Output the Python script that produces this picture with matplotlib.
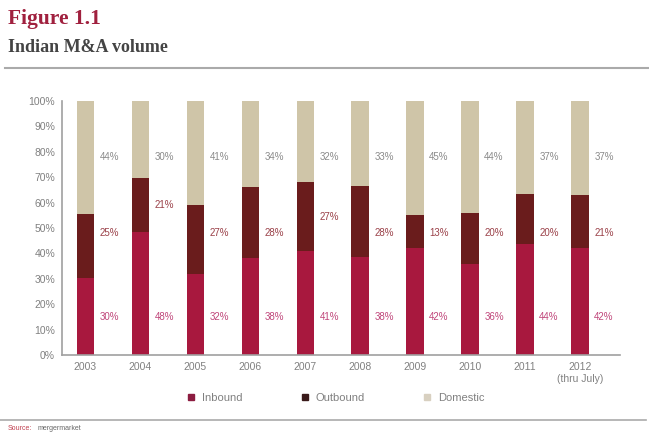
import matplotlib
matplotlib.use('Agg')
import matplotlib.pyplot as plt
import numpy as np
from matplotlib.lines import Line2D

years = ['2003', '2004', '2005', '2006', '2007', '2008', '2009', '2010', '2011', '2012\n(thru July)']
inbound = [30, 48, 32, 38, 41, 38, 42, 36, 44, 42]
outbound = [25, 21, 27, 28, 27, 28, 13, 20, 20, 21]
domestic = [44, 30, 41, 34, 32, 33, 45, 44, 37, 37]

c_in = '#a8183e'
c_out = '#6a1c1c'
c_dom = '#cfc5a8'
narrow = ['Liberation Sans Narrow', 'DejaVu Sans Condensed', 'Liberation Sans']

fig = plt.figure(figsize=(6.49, 4.33), dpi=100)
ax = fig.add_axes([0.0955, 0.180, 0.860, 0.587])

x = np.arange(len(years))
inb = np.array(inbound, float)
outb = np.array(outbound, float)
dom = np.array(domestic, float)
tot = inb + outb + dom
h_in = inb / tot
h_out = outb / tot
h_dom = dom / tot
w = 0.31
ax.bar(x, h_in, w, color=c_in)
ax.bar(x, h_out, w, bottom=h_in, color=c_out)
ax.bar(x, h_dom, w, bottom=h_in + h_out, color=c_dom)

for i in range(len(years)):
    mid = h_in[i] + h_out[i] / 2
    y_out = mid if abs(mid - 0.48) > 0.06 else 0.48
    ax.text(x[i] + 0.26, 0.15, '%d%%' % inbound[i], color='#c0467a', fontsize=7,
            va='center', ha='left', family=narrow)
    ax.text(x[i] + 0.26, y_out, '%d%%' % outbound[i], color='#9a4048', fontsize=7,
            va='center', ha='left', family=narrow)
    ax.text(x[i] + 0.26, 0.78, '%d%%' % domestic[i], color='#8a8a8a', fontsize=7,
            va='center', ha='left', family=narrow)

ax.set_xlim(-0.42, 9.73)
ax.set_ylim(0, 1)
ax.set_yticks(np.arange(0, 1.01, 0.1))
ax.set_yticklabels(['%d%%' % v for v in range(0, 101, 10)])
ax.set_xticks(x)
ax.set_xticklabels(years)
ax.tick_params(length=0, labelsize=7.5, colors='#808080', pad=5)
for lab in ax.get_xticklabels() + ax.get_yticklabels():
    lab.set_family(narrow)
for s in ['top', 'right']:
    ax.spines[s].set_visible(False)
for s in ['left', 'bottom']:
    ax.spines[s].set_color('#a0a0a0')
    ax.spines[s].set_linewidth(1.2)

handles = [Line2D([], [], marker='s', ls='', ms=4.5, color=c) for c in ['#8c1c40', '#3a1a1a', '#d8d0c0']]
leg = fig.legend(handles, ['Inbound', 'Outbound', 'Domestic'], loc='center', bbox_to_anchor=(0.512, 0.08),
                 ncol=3, frameon=False, handletextpad=0.0, columnspacing=4.6,
                 prop={'family': narrow, 'size': 8})
for t in leg.get_texts():
    t.set_color('#808080')

fig.text(0.012, 0.955, 'Figure 1.1', fontsize=15.5, fontweight='bold', color='#a0203e',
         family='Liberation Serif', va='center')
fig.text(0.012, 0.89, 'Indian M&A volume', fontsize=13, fontweight='bold', color='#444444',
         family='Liberation Serif', va='center')
fig.add_artist(Line2D([0.008, 1.0], [0.843, 0.843], color='#aaaaaa', lw=1.5))
fig.add_artist(Line2D([0.0, 0.995], [0.030, 0.030], color='#aaaaaa', lw=1.2))
fig.text(0.012, 0.003, 'Source:', fontsize=5, color='#c04050', family=narrow, va='bottom')
fig.text(0.058, 0.003, 'mergermarket', fontsize=5, color='#666666', family=narrow, va='bottom')

fig.savefig('out.png', dpi=100)
